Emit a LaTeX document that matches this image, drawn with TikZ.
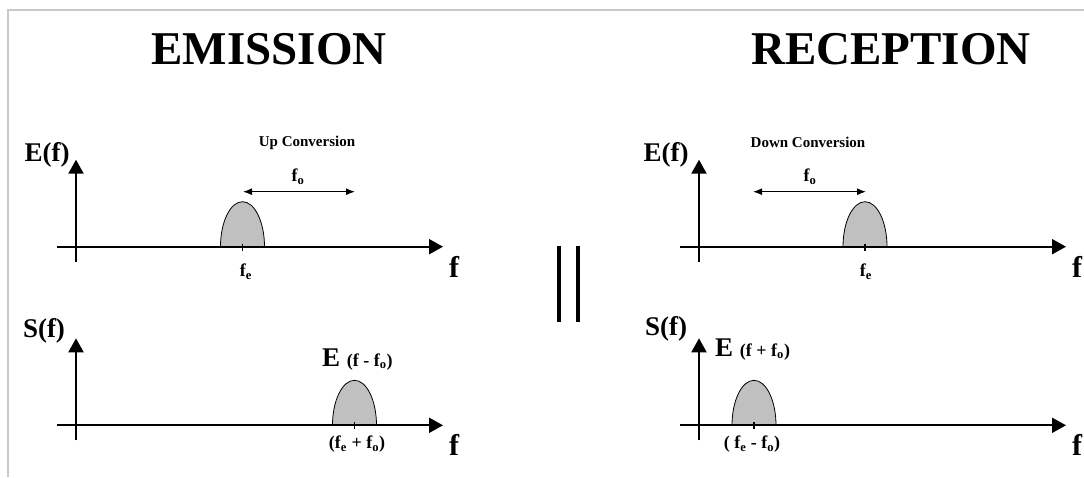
\documentclass[tikz,border=0pt]{standalone}
\usepackage{fontspec}
\setmainfont{Liberation Serif}
\usetikzlibrary{arrows.meta}

\definecolor{bumpgray}{RGB}{192,192,192}
\definecolor{framegray}{RGB}{200,200,200}

\begin{document}
\begin{tikzpicture}[x=10pt, y=10pt, font=\bfseries,
  faxis/.style={line width=2pt, -{Triangle[length=14pt,width=15pt]}},
  fshift/.style={line width=1.2pt, {Latex[length=9pt,width=7pt]}-{Latex[length=9pt,width=7pt]}},
  bump/.style={fill=bumpgray, draw=black, line width=0.8pt},
  fetick/.style={line width=1.6pt},
  bigtitle/.style={font=\fontsize{47}{47}\selectfont\bfseries},
  axlab/.style={font=\fontsize{27}{27}\selectfont\bfseries, inner sep=0pt},
  flab/.style={font=\fontsize{30}{30}\selectfont\bfseries, inner sep=0pt},
  convlab/.style={font=\fontsize{15}{15}\selectfont\bfseries, inner sep=0pt},
  sublab/.style={font=\fontsize{18}{18}\selectfont\bfseries, inner sep=0pt}]

  \useasboundingbox (0,0) rectangle (108.4,47.7);

  % ---------- frame ----------
  \draw[framegray, line width=2pt] (0.8,0) -- (0.8,46.7) -- (108.4,46.7);

  % ---------- titles ----------
  \node[bigtitle] (emission)  at (26.9,42.8) {EMISSION};
  \node[bigtitle] (reception) at (89.1,42.8) {RECEPTION};

  % ---------- spectra and ticks ----------
  \foreach \c/\b in {24.25/23.03, 35.45/5.17, 86.5/23.03, 75.4/5.17}{
    \draw[bump] (\c-2.2,\b) arc[start angle=180, end angle=0, x radius=2.2, y radius=4.5] -- cycle;
    \draw[fetick] (\c,\b+0.3) -- (\c,\b-0.4);
  }

  % ---------- the four pairs of axes ----------
  \foreach \p/\x/\y in {A/7.6/23.03, B/7.6/5.17, C/69.9/23.03, D/69.9/5.17}{
    \coordinate (o\p)    at (\x,\y);
    \coordinate (ybot\p) at (\x,\y-1.5);
    \coordinate (ytop\p) at (\x,\y+8.7);
    \coordinate (xl\p)   at (\x-1.9,\y);
    \coordinate (xr\p)   at (\x+36.7,\y);
    \draw[faxis] (ybot\p) -- (ytop\p);
    \draw[faxis] (xl\p) -- (xr\p);
    \node[flab] (f\p) at (\x+37.8,\y-2.0) {f};
  }

  % ---------- axis names ----------
  \node[axlab] (EfA) at (4.7,32.2) {E(f)};
  \node[axlab] (SfB) at (4.4,14.6) {S(f)};
  \node[axlab] (EfC) at (66.6,32.2) {E(f)};
  \node[axlab] (SfD) at (66.6,14.8) {S(f)};

  % ---------- frequency shift ----------
  \node[convlab] (up)   at (30.7,33.4) {Up Conversion};
  \node[convlab] (down) at (80.8,33.5) {Down Conversion};

  \coordinate (upL)   at (24.3,28.53);
  \coordinate (upR)   at (35.5,28.53);
  \coordinate (downL) at (75.3,28.53);
  \coordinate (downR) at (86.6,28.53);
  \draw[fshift] (upL) -- (upR);
  \draw[fshift] (downL) -- (downR);
  \node[sublab] (foA) at (29.8,30.0) {f\textsubscript{o}};
  \node[sublab] (foC) at (81.0,30.0) {f\textsubscript{o}};

  % ---------- tick labels ----------
  \node[sublab] (feA)  at (24.6,20.5) {f\textsubscript{e}};
  \node[sublab] (feC)  at (86.6,20.5) {f\textsubscript{e}};
  \node[sublab] (sumB) at (35.7,3.3)  {(f\textsubscript{e} + f\textsubscript{o})};
  \node[sublab] (difD) at (75.2,3.3)  {( f\textsubscript{e} - f\textsubscript{o})};

  % ---------- shifted spectra ----------
  \node[anchor=base west, inner sep=0pt] (EB) at (32.2,11.1)
        {\fontsize{27}{27}\selectfont E \fontsize{18}{18}\selectfont(f - f\textsubscript{o})};
  \node[anchor=base west, inner sep=0pt] (ED) at (71.5,12.1)
        {\fontsize{27}{27}\selectfont E \fontsize{18}{18}\selectfont(f + f\textsubscript{o})};

  % ---------- equivalence sign ----------
  \draw[line width=4pt] (55.93,23.1) -- (55.93,15.5);
  \draw[line width=4pt] (57.83,23.1) -- (57.83,15.5);

\end{tikzpicture}
\end{document}
